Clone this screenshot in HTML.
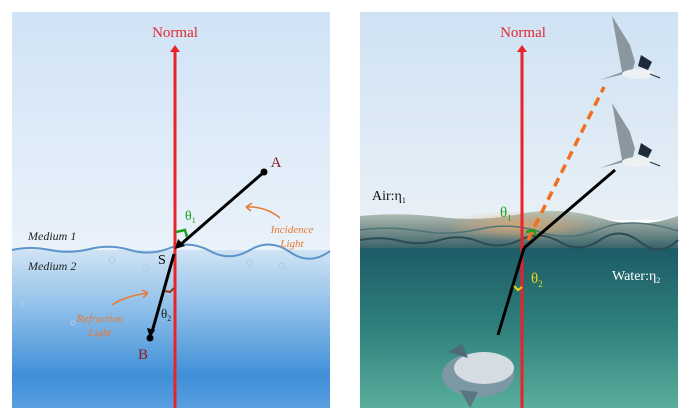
<!DOCTYPE html>
<html><head><meta charset="utf-8"><style>
body{margin:0;background:#fff;}
svg{display:block;font-family:"Liberation Serif",serif;}
</style></head><body>
<svg width="691" height="418" viewBox="0 0 691 418">
<defs>
<linearGradient id="sky" x1="0" y1="0" x2="0" y2="1"><stop offset="0" stop-color="#d0e3f6"/><stop offset="1" stop-color="#eaf2fa"/></linearGradient>
<linearGradient id="wat" x1="0" y1="0" x2="0" y2="1"><stop offset="0" stop-color="#cfe3f4"/><stop offset="0.35" stop-color="#93c1ea"/><stop offset="0.8" stop-color="#3f8fd8"/><stop offset="1" stop-color="#5a9ee0"/></linearGradient>
<linearGradient id="sky2" x1="0" y1="0" x2="0" y2="1"><stop offset="0" stop-color="#cfe2f4"/><stop offset="1" stop-color="#e8f0f6"/></linearGradient>
<linearGradient id="wave2" x1="0" y1="0" x2="0" y2="1"><stop offset="0" stop-color="#b8c4b8"/><stop offset="0.5" stop-color="#7d9290"/><stop offset="1" stop-color="#3a6468"/></linearGradient>
<linearGradient id="wat2" x1="0" y1="0" x2="0" y2="1"><stop offset="0" stop-color="#1d5a66"/><stop offset="0.5" stop-color="#2e807c"/><stop offset="1" stop-color="#5aae9c"/></linearGradient>
<radialGradient id="glow" cx="0.5" cy="0.5" r="0.5"><stop offset="0" stop-color="#e0a870" stop-opacity="0.85"/><stop offset="1" stop-color="#e0a870" stop-opacity="0"/></radialGradient>
</defs>
<rect x="12" y="12" width="318" height="238" fill="url(#sky)"/>
<rect x="12" y="250" width="318" height="158" fill="url(#wat)"/>
<path d="M12 250 Q30 246 50 250 T90 249 T130 250 T170 248 T210 251 T250 250 T290 252 T330 251" stroke="#5c94cc" stroke-width="2" fill="none"/>
<g fill="none" stroke="#a8cdec" stroke-width="1"><circle cx="112" cy="260" r="3"/><circle cx="146" cy="268" r="3"/><circle cx="144" cy="283" r="3"/><circle cx="250" cy="263" r="3"/><circle cx="282" cy="266" r="3"/><circle cx="323" cy="280" r="3"/><circle cx="251" cy="291" r="3"/><circle cx="22" cy="304" r="2"/><circle cx="73" cy="323" r="2"/><circle cx="212" cy="286" r="2"/></g>
<line x1="175" y1="50" x2="175" y2="408" stroke="#e8232a" stroke-width="3"/>
<polygon points="175,45 170,52 180,52" fill="#e8232a"/>
<text x="175" y="37" font-size="15" fill="#e02a30" text-anchor="middle">Normal</text>
<line x1="264" y1="172" x2="180" y2="245" stroke="#000" stroke-width="3"/>
<polygon points="175,249 178,239 185,246" fill="#000"/>
<circle cx="264" cy="172" r="3.5" fill="#000"/>
<text x="276" y="167" font-size="15" fill="#8b1a1a" text-anchor="middle">A</text>
<line x1="174" y1="254" x2="152" y2="332" stroke="#000" stroke-width="3"/>
<circle cx="150" cy="338" r="3.5" fill="#000"/>
<polygon points="150,338 147,328 155,330" fill="#000"/>
<text x="143" y="359" font-size="15" fill="#8b1a1a" text-anchor="middle">B</text>
<text x="158" y="264" font-size="14" fill="#000">S</text>
<path d="M176 232 L185 230 L187 237" stroke="#1ea01e" stroke-width="2.5" fill="none"/>
<text x="185" y="220" font-size="14" fill="#1ea01e">θ<tspan font-size="8" dy="3">1</tspan></text>
<path d="M165 291 L170 292 L174 288" stroke="#9a3a10" stroke-width="2" fill="none"/>
<text x="161" y="318" font-size="13" fill="#222">θ<tspan font-size="8" dy="3">2</tspan></text>
<text x="28" y="240" font-size="12" font-style="italic" fill="#222">Medium 1</text>
<text x="28" y="270" font-size="12" font-style="italic" fill="#222">Medium 2</text>
<text x="292" y="233" font-size="11" font-style="italic" fill="#e87830" text-anchor="middle">Incidence</text>
<text x="292" y="247" font-size="11" font-style="italic" fill="#e87830" text-anchor="middle">Light</text>
<path d="M280 218 Q265 206 246 207 M246 207 L252 203 M246 207 L251 211" stroke="#e87830" stroke-width="1.5" fill="none"/>
<text x="100" y="322" font-size="11" font-style="italic" fill="#e87830" text-anchor="middle">Refraction</text>
<text x="100" y="336" font-size="11" font-style="italic" fill="#e87830" text-anchor="middle">Light</text>
<path d="M112 305 Q125 296 148 293 M148 293 L142 290 M148 293 L143 298" stroke="#e87830" stroke-width="1.5" fill="none"/>
<rect x="360" y="12" width="318" height="208" fill="url(#sky2)"/>
<rect x="360" y="246" width="318" height="162" fill="url(#wat2)"/>
<path d="M360 216 Q400 212 440 217 T520 214 T600 218 T678 216 L678 248 L360 248 Z" fill="url(#wave2)"/>
<ellipse cx="520" cy="226" rx="80" ry="15" fill="url(#glow)"/>
<path d="M360 240 Q380 236 400 241 T440 240 T480 242 T520 240 T560 242 T600 240 T640 242 T678 240" stroke="#2a4c55" stroke-width="2" fill="none"/>
<path d="M360 230 Q390 226 420 231 T480 229 T540 232 T600 229 T678 231" stroke="#4e7478" stroke-width="1.5" fill="none"/>
<ellipse cx="478" cy="375" rx="36" ry="22" fill="#7c98a4"/>
<ellipse cx="484" cy="368" rx="30" ry="16" fill="#d6dde2"/>
<polygon points="448,352 462,344 468,358" fill="#4d6a76"/>
<polygon points="460,390 470,408 478,392" fill="#5a7682"/>
<line x1="522" y1="50" x2="522" y2="408" stroke="#e8232a" stroke-width="3"/>
<polygon points="522,45 517,52 527,52" fill="#e8232a"/>
<text x="523" y="37" font-size="15" fill="#e02a30" text-anchor="middle">Normal</text>
<line x1="524" y1="248" x2="615" y2="170" stroke="#000" stroke-width="3"/>
<line x1="524" y1="248" x2="498" y2="335" stroke="#000" stroke-width="3"/>
<line x1="528" y1="240" x2="604" y2="87" stroke="#f07020" stroke-width="3.5" stroke-dasharray="9,6"/>
<path d="M526 232 L534 230 L536 236" stroke="#1ea01e" stroke-width="2.5" fill="none"/>
<path d="M514 286 L518 290 L522 287" stroke="#e8d818" stroke-width="2" fill="none"/>
<text x="500" y="217" font-size="15" fill="#1ea01e">θ<tspan font-size="9" dy="4">1</tspan></text>
<text x="531" y="283" font-size="15" fill="#e8d818">θ<tspan font-size="9" dy="4">2</tspan></text>
<text x="372" y="200" font-size="14" fill="#111">Air:η<tspan font-size="8" dy="3">1</tspan></text>
<text x="612" y="280" font-size="14" fill="#fff">Water:η<tspan font-size="8" dy="3">2</tspan></text>
<g fill="#8a979f">
<path d="M612 16 L630 45 L635 62 L632 72 L600 80 L622 72 Z"/>
<path d="M612 103 L630 132 L635 149 L632 160 L600 168 L622 160 Z"/>
</g>
<g fill="#eef1f3"><ellipse cx="638" cy="74" rx="16" ry="5"/><ellipse cx="638" cy="162" rx="16" ry="5"/></g>
<g fill="#1e2a3a"><polygon points="641,55 652,62 648,70 638,66"/><polygon points="641,143 652,150 648,158 638,154"/></g>
<g stroke="#1e2a3a" stroke-width="1"><line x1="650" y1="74" x2="660" y2="78"/><line x1="650" y1="162" x2="660" y2="166"/></g>
</svg>
</body></html>
